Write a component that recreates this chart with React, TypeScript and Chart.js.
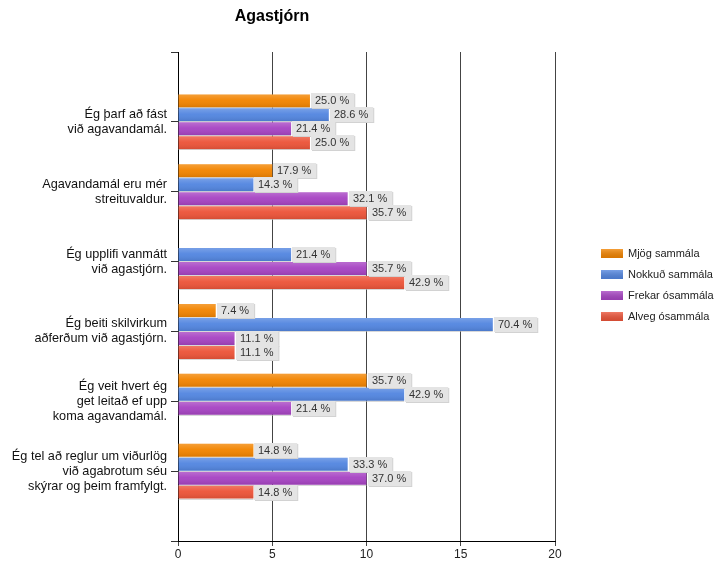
import React, { useEffect, useRef } from 'react';
import { Chart, registerables } from 'chart.js';

Chart.register(...registerables);

const chartTitle = 'Agastjórn';

const categories: string[][] = [
  ['Ég þarf að fást', 'við agavandamál.'],
  ['Agavandamál eru mér', 'streituvaldur.'],
  ['Ég upplifi vanmátt', 'við agastjórn.'],
  ['Ég beiti skilvirkum', 'aðferðum við agastjórn.'],
  ['Ég veit hvert ég', 'get leitað ef upp', 'koma agavandamál.'],
  ['Ég tel að reglur um viðurlög', 'við agabrotum séu', 'skýrar og þeim framfylgt.'],
];

const seriesNames = ['Mjög sammála', 'Nokkuð sammála', 'Frekar ósammála', 'Alveg ósammála'];

const mjogSammala = [7, 5, null, 2, 10, 4];
const nokkudSammala = [8, 4, 6, 16.7, 12, 9];
const frekarOsammala = [6, 9, 10, 3, 6, 10];
const alvegOsammala = [7, 10, 12, 3, null, 4];

const mjogLabels = ['25.0 %', '17.9 %', '', '7.4 %', '35.7 %', '14.8 %'];
const nokkudLabels = ['28.6 %', '14.3 %', '21.4 %', '70.4 %', '42.9 %', '33.3 %'];
const frekarLabels = ['21.4 %', '32.1 %', '35.7 %', '11.1 %', '21.4 %', '37.0 %'];
const alvegLabels = ['25.0 %', '35.7 %', '42.9 %', '11.1 %', '', '14.8 %'];

const xMin = 0;
const xMax = 20;
const xStep = 5;

const colors = ['#F28400', '#5386E0', '#A744C3', '#EC5439'];

const FONT = '"Liberation Sans", Arial, sans-serif';

export default function App() {
  const ref = useRef<HTMLCanvasElement | null>(null);

  useEffect(() => {
    if (!ref.current) return;
    const series = [mjogSammala, nokkudSammala, frekarOsammala, alvegOsammala];
    const seriesLabels = [mjogLabels, nokkudLabels, frekarLabels, alvegLabels];

    const labels: any[] = ['', ...categories, ''];

    const datasets = series.map((vals, i) => ({
      label: seriesNames[i],
      data: [null, ...vals, null],
      backgroundColor: colors[i],
      borderWidth: 0,
      categoryPercentage: 0.8,
      barPercentage: 0.93,
    }));

    const decor = {
      id: 'decor',
      afterDatasetsDraw(chart: any) {
        const ctx = chart.ctx as CanvasRenderingContext2D;
        ctx.save();
        chart.data.datasets.forEach((ds: any, di: number) => {
          const meta = chart.getDatasetMeta(di);
          meta.data.forEach((el: any, i: number) => {
            if (ds.data[i] == null) return;
            const p = el.getProps(['x', 'y', 'base', 'height'], true);
            const top = p.y - p.height / 2;
            const g = ctx.createLinearGradient(0, top, 0, top + p.height);
            g.addColorStop(0, 'rgba(255,255,255,0.22)');
            g.addColorStop(0.45, 'rgba(255,255,255,0.04)');
            g.addColorStop(1, 'rgba(0,0,0,0.10)');
            ctx.fillStyle = g;
            ctx.fillRect(p.base, top, p.x - p.base, p.height);
            ctx.fillStyle = 'rgba(190,190,190,0.6)';
            ctx.fillRect(p.base, Math.round(top + p.height), p.x - p.base, 1);
          });
        });
        ctx.font = '11px ' + FONT;
        ctx.textBaseline = 'middle';
        ctx.textAlign = 'left';
        chart.data.datasets.forEach((ds: any, di: number) => {
          const meta = chart.getDatasetMeta(di);
          meta.data.forEach((el: any, i: number) => {
            if (ds.data[i] == null) return;
            const txt = seriesLabels[di][i - 1];
            if (!txt) return;
            const p = el.getProps(['x', 'y'], true);
            const w = ctx.measureText(txt).width + 9;
            const h = 15;
            const bx = Math.round(p.x) + 1;
            const by = Math.round(p.y - h / 2);
            ctx.fillStyle = '#d2d2d2';
            ctx.fillRect(bx + 1, by + 1, w, h);
            ctx.fillStyle = '#e4e4e4';
            ctx.fillRect(bx, by, w, h);
            ctx.fillStyle = '#333333';
            ctx.fillText(txt, bx + 4, by + h / 2 + 0.5);
          });
        });
        ctx.restore();
      },
      afterDraw(chart: any) {
        const ctx = chart.ctx as CanvasRenderingContext2D;
        ctx.save();
        ctx.font = 'bold 16px ' + FONT;
        ctx.fillStyle = '#000';
        ctx.textAlign = 'center';
        ctx.textBaseline = 'middle';
        ctx.fillText(chartTitle, 272, 17);
        ctx.font = '11px ' + FONT;
        ctx.textAlign = 'left';
        seriesNames.forEach((name, i) => {
          const cy = 253 + i * 21.2;
          const bx = 601;
          const by = Math.round(cy - 4.5);
          ctx.fillStyle = colors[i];
          ctx.fillRect(bx, by, 22, 9);
          const g = ctx.createLinearGradient(0, by, 0, by + 9);
          g.addColorStop(0, 'rgba(255,255,255,0.22)');
          g.addColorStop(1, 'rgba(0,0,0,0.10)');
          ctx.fillStyle = g;
          ctx.fillRect(bx, by, 22, 9);
          ctx.fillStyle = '#222';
          ctx.fillText(name, 628, cy + 0.5);
        });
        ctx.restore();
      },
    };

    const chart = new Chart(ref.current, {
      type: 'bar',
      data: { labels, datasets },
      options: {
        indexAxis: 'y',
        responsive: false,
        animation: false,
        maintainAspectRatio: false,
        layout: { padding: { top: 52, right: 160, left: 0, bottom: 0 } },
        plugins: {
          legend: { display: false },
          title: { display: false },
          tooltip: { enabled: false },
        },
        scales: {
          x: {
            type: 'linear',
            min: xMin,
            max: xMax,
            afterFit: (s: any) => {
              s.height = 22;
            },
            ticks: {
              stepSize: xStep,
              font: { size: 12, family: FONT },
              color: '#222',
              padding: 1,
              maxRotation: 0,
            },
            grid: {
              color: '#444',
              lineWidth: 1,
              tickLength: 5,
              drawTicks: true,
            },
            border: { display: true, color: '#000', width: 1 },
          },
          y: {
            type: 'category',
            offset: false,
            afterFit: (s: any) => {
              s.width = 178;
            },
            ticks: {
              autoSkip: false,
              font: { size: 12.7, family: FONT, lineHeight: 1.18 },
              color: '#111',
              padding: 4,
            },
            grid: {
              offset: false,
              drawOnChartArea: false,
              drawTicks: true,
              tickLength: 7,
              color: '#333',
            },
            border: { display: true, color: '#000', width: 1 },
          },
        },
      },
      plugins: [decor],
    } as any);

    return () => chart.destroy();
  }, []);

  return (
    <div style={{ position: 'absolute', left: 0, top: 0, width: 715, height: 563, background: '#fff' }}>
      <canvas ref={ref} width={715} height={563} style={{ display: 'block', width: 715, height: 563 }} />
    </div>
  );
}
